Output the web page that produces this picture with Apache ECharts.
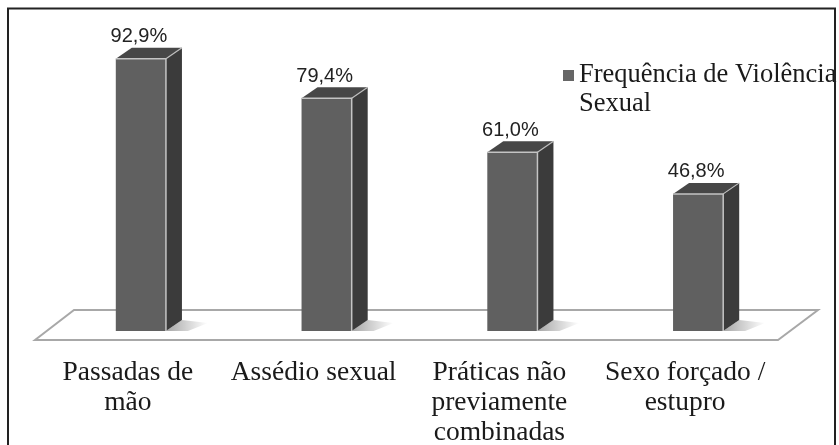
<!DOCTYPE html>
<html>
<head>
<meta charset="utf-8">
<script src="https://cdn.jsdelivr.net/npm/echarts@6/dist/echarts.min.js"></script>
<style>html,body{margin:0;padding:0;background:#fff;}#c{width:839px;height:445px;}</style>
</head>
<body>
<div id="c"></div>
<script>
const categories = ['Passadas de\nmão', 'Assédio sexual', 'Práticas não\npreviamente\ncombinadas', 'Sexo forçado /\nestupro'];
const values = [92.9, 79.4, 61.0, 46.8];
const seriesName = 'Frequência de Violência Sexual';

const chart = echarts.init(document.getElementById('c'), null, {renderer: 'canvas'});

function fmt(v) { return v.toFixed(1).replace('.', ',') + '%'; }

const option = {
  animation: false,
  backgroundColor: '#fff',
  graphic: [{
    type: 'rect', silent: true, z: 100,
    shape: {x: 8, y: 8.5, width: 827, height: 460},
    style: {fill: 'none', stroke: '#222', lineWidth: 2}
  }],
  grid: {left: 35, right: 61, top: 47, bottom: 105, containLabel: false, outerBoundsMode: 'none'},
  legend: {
    data: [seriesName],
    left: 563, top: 32,
    padding: 0,
    itemWidth: 11, itemHeight: 11,
    icon: 'rect',
    itemStyle: {color: '#666'},
    formatter: function (n) { return '\n' + n.replace(' Sexual', '\nSexual'); },
    textStyle: {fontFamily: 'Liberation Serif', fontSize: 26.5, color: '#1a1a1a', lineHeight: 29}
  },
  xAxis: {
    type: 'category',
    data: categories,
    axisLine: {show: false}, axisTick: {show: false}, splitLine: {show: false},
    axisLabel: {fontFamily: 'Liberation Serif', fontSize: 27.5, color: '#1a1a1a', lineHeight: 30, margin: 18, interval: 0}
  },
  yAxis: {type: 'value', min: 0, max: 100, show: false},
  series: [
    {
      type: 'custom', name: 'floor', silent: true, z: 1,
      data: [[0, 0]],
      renderItem: function (params, api) {
        const cs = params.coordSys;
        const x = cs.x, y = cs.y + cs.height;
        return {
          type: 'polygon',
          shape: {points: [[x, y], [x + 39, y - 30], [x + cs.width + 40, y - 30], [x + cs.width, y]]},
          style: {fill: '#fff', stroke: '#a8a8a8', lineWidth: 2}
        };
      }
    },
    {
      type: 'custom', name: seriesName, z: 2,
      itemStyle: {color: '#606060'},
      data: values.map(function (v, i) { return [i, v]; }),
      renderItem: function (params, api) {
        const v = api.value(1);
        const base = api.coord([api.value(0), 0]);
        const top = api.coord([api.value(0), v]);
        const band = api.size([1, 0])[0];
        const w = band * 0.27;
        const cx = base[0] + 13;
        const x0 = cx - w / 2, x1 = cx + w / 2;
        const yb = base[1] - 9, yt = top[1] - 9;
        const dx = 16, dy = -11;
        return {
          type: 'group',
          children: [
            {
              type: 'polygon',
              shape: {points: [[x1, yb], [x1 + dx, yb + dy], [x1 + dx + 26, yb + dy + 3], [x1 + 22, yb]]},
              style: {fill: new echarts.graphic.LinearGradient(0, 0, 1, 0, [
                {offset: 0, color: 'rgba(0,0,0,0.35)'}, {offset: 1, color: 'rgba(0,0,0,0)'}
              ])}
            },
            {
              type: 'polygon',
              shape: {points: [[x1, yt], [x1 + dx, yt + dy], [x1 + dx, yb + dy], [x1, yb]]},
              style: {fill: '#3b3b3b'}
            },
            {
              type: 'polygon',
              shape: {points: [[x0, yt], [x1, yt], [x1 + dx, yt + dy], [x0 + dx, yt + dy]]},
              style: {fill: '#474747'}
            },
            {
              type: 'rect',
              shape: {x: x0, y: yt, width: w, height: yb - yt},
              style: {fill: '#606060'}
            },
            {
              type: 'polyline',
              shape: {points: [[x0, yt], [x1, yt], [x1, yb]]},
              style: {fill: 'none', stroke: '#c4c4c4', lineWidth: 1.5}
            },
            {
              type: 'line',
              shape: {x1: x1, y1: yt, x2: x1 + dx, y2: yt + dy},
              style: {stroke: '#bdbdbd', lineWidth: 1.2}
            },
            {
              type: 'text',
              style: {
                text: fmt(v), x: cx - 2, y: yt + dy - 11,
                align: 'center', verticalAlign: 'middle',
                fontFamily: 'Liberation Sans', fontSize: 20, fill: '#222'
              }
            }
          ]
        };
      }
    }
  ]
};
chart.setOption(option);
</script>
</body>
</html>
